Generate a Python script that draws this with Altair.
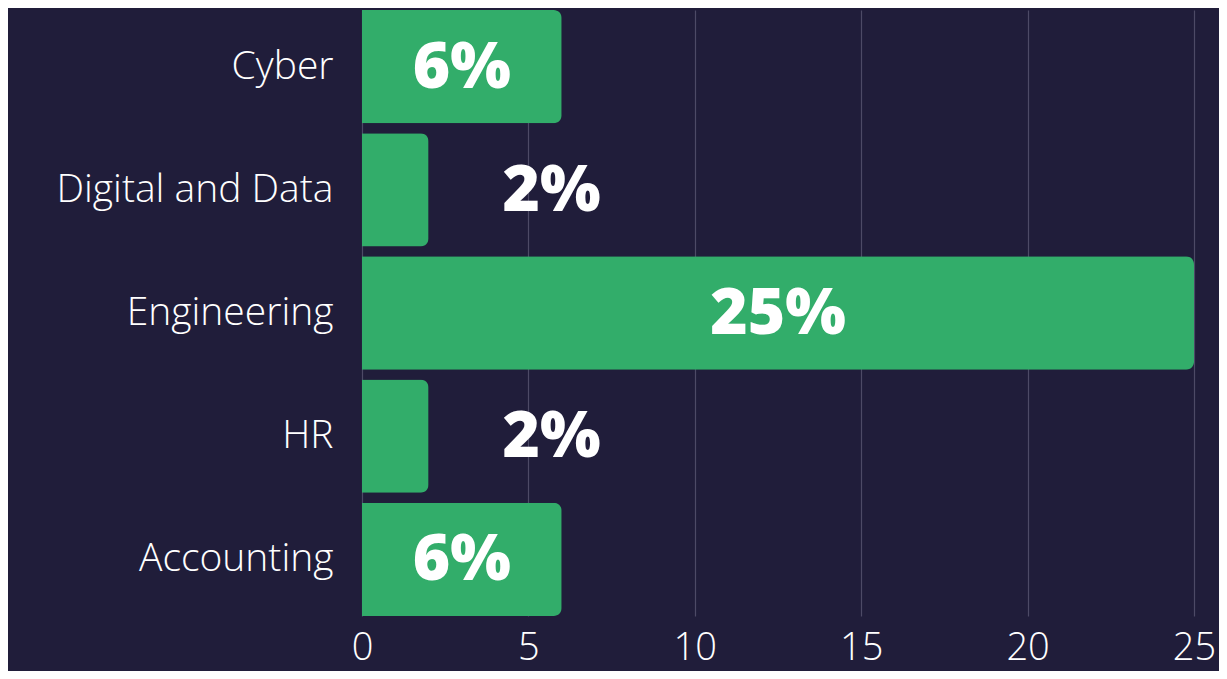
import altair as alt
import pandas as pd

categories = ["Cyber", "Digital and Data", "Engineering", "HR", "Accounting"]
values = [6, 2, 25, 2, 6]
x_ticks = [0, 5, 10, 15, 20, 25]

df = pd.DataFrame({"category": categories, "value": values})
df["label"] = [f"{v}%" for v in values]

BG = "#201d3a"
GREEN = "#32ad6a"
FONT = "Open Sans"

y_enc = alt.Y("category:N", sort=categories,
              scale=alt.Scale(paddingInner=0.08, paddingOuter=0),
              axis=alt.Axis(title=None, labelFont=FONT, labelFontSize=39, labelFontWeight=300,
                            labelColor="white", labelPadding=29, ticks=False, domain=False,
                            grid=False, labelLimit=400))

x_scale = alt.Scale(domain=[0, 25], nice=False)

bars = alt.Chart(df).mark_bar(color=GREEN, cornerRadiusEnd=8).encode(
    x=alt.X("value:Q", scale=x_scale,
            axis=alt.Axis(title=None, values=x_ticks, labelFont=FONT, labelFontSize=38,
                          labelFontWeight=300, labelColor="white", ticks=False, domain=False,
                          grid=True, gridColor="#4d4a66", gridWidth=1.2, labelPadding=13,
                          labelFlush=False)),
    y=y_enc,
)

inside = alt.Chart(df).transform_filter("datum.value >= 5").transform_calculate(
    pos="datum.value / 2").mark_text(
    font=FONT, fontSize=64, fontWeight=800, color="white",
    align="center", baseline="middle", dx=0, dy=2).encode(
    x=alt.X("pos:Q", scale=x_scale), y=alt.Y("category:N", sort=categories), text="label:N")

outside = alt.Chart(df).transform_filter("datum.value < 5").mark_text(
    font=FONT, fontSize=64, fontWeight=800, color="white",
    align="left", baseline="middle", dx=74, dy=2).encode(
    x=alt.X("value:Q", scale=x_scale), y=alt.Y("category:N", sort=categories), text="label:N")

chart = alt.layer(bars, inside, outside).properties(
    width=832, height=606,
    background=BG,
    padding={"left": 354, "top": 2, "right": 25, "bottom": 55},
    autosize=alt.AutoSizeParams(type="none"),
).configure_view(stroke=None)

chart.save("out.html", embed_options={"renderer": "svg", "actions": False})
